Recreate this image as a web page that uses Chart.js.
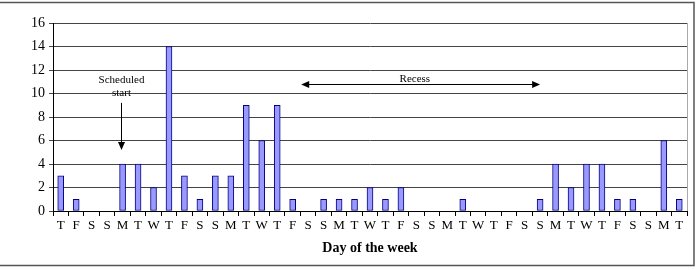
<!DOCTYPE html>
<html>
<head>
<meta charset="utf-8">
<script src="https://cdn.jsdelivr.net/npm/chart.js@4"></script>
<style>
html,body{margin:0;padding:0;background:#fff;}
#wrap{width:696px;height:270px;position:relative;}
</style>
</head>
<body>
<div id="wrap"><canvas id="c" width="696" height="270"></canvas></div>
<script>
const days = ["T","F","S","S","M","T","W","T","F","S","S","M","T","W","T","F","S","S","M","T","W","T","F","S","S","M","T","W","T","F","S","S","M","T","W","T","F","S","S","M","T"];
const counts = [3,1,0,0,4,4,2,14,3,1,3,3,9,6,9,1,0,1,1,1,2,1,2,0,0,0,1,0,0,0,0,1,4,2,4,4,1,1,0,6,1];
const xTitle = "Day of the week";
const schedLabel = ["Scheduled","start"];
const recessLabel = "Recess";
// annotation anchors in data units
const schedX = 3.9, schedTextY = [11.1, 10.0], schedArrowY = [9.2, 5.2];
const recessX = [15.55, 31.0], recessY = 10.8, recessTextX = 22.9, recessTextY = 11.25;

const serif = "'Liberation Serif','Times New Roman',serif";

const deco = {
  id: 'deco',
  afterDraw(chart) {
    const ctx = chart.ctx, x = chart.scales.x, y = chart.scales.y, a = chart.chartArea;
    ctx.save();
    ctx.strokeStyle = '#aaaaaa'; ctx.lineWidth = 1;
    ctx.beginPath(); ctx.moveTo(Math.round(a.right)+0.5, a.top); ctx.lineTo(Math.round(a.right)+0.5, a.bottom); ctx.stroke();
    ctx.strokeStyle = '#555555'; ctx.lineWidth = 1.5;
    ctx.beginPath(); ctx.moveTo(0, 2.5); ctx.lineTo(694, 2.5); ctx.lineTo(694, 265.5); ctx.lineTo(0, 265.5); ctx.stroke();

    ctx.fillStyle = '#000'; ctx.strokeStyle = '#000'; ctx.lineWidth = 1;
    ctx.font = "11px " + serif; ctx.textAlign = 'center'; ctx.textBaseline = 'middle';
    const sx = Math.round(x.getPixelForValue(schedX)) + 0.5;
    ctx.fillText(schedLabel[0], sx, y.getPixelForValue(schedTextY[0]));
    ctx.fillText(schedLabel[1], sx, y.getPixelForValue(schedTextY[1]));
    const y0 = y.getPixelForValue(schedArrowY[0]), y1 = y.getPixelForValue(schedArrowY[1]);
    ctx.beginPath(); ctx.moveTo(sx, y0); ctx.lineTo(sx, y1 - 6); ctx.stroke();
    ctx.beginPath(); ctx.moveTo(sx - 3.5, y1 - 8); ctx.lineTo(sx + 3.5, y1 - 8); ctx.lineTo(sx, y1); ctx.closePath(); ctx.fill();

    const rx0 = x.getPixelForValue(recessX[0]), rx1 = x.getPixelForValue(recessX[1]);
    const ry = Math.round(y.getPixelForValue(recessY)) + 0.5;
    ctx.beginPath(); ctx.moveTo(rx0 + 6, ry); ctx.lineTo(rx1 - 6, ry); ctx.stroke();
    ctx.beginPath(); ctx.moveTo(rx0, ry); ctx.lineTo(rx0 + 8, ry - 3.5); ctx.lineTo(rx0 + 8, ry + 3.5); ctx.closePath(); ctx.fill();
    ctx.beginPath(); ctx.moveTo(rx1, ry); ctx.lineTo(rx1 - 8, ry - 3.5); ctx.lineTo(rx1 - 8, ry + 3.5); ctx.closePath(); ctx.fill();
    ctx.fillText(recessLabel, x.getPixelForValue(recessTextX), y.getPixelForValue(recessTextY));
    ctx.restore();
  }
};

new Chart(document.getElementById('c'), {
  type: 'bar',
  data: {
    labels: days,
    datasets: [{
      data: counts,
      backgroundColor: '#9999ff',
      borderColor: '#000080',
      borderWidth: 1,
      borderSkipped: false,
      barThickness: 6,
      categoryPercentage: 1.0
    }]
  },
  options: {
    responsive: false,
    animation: false,
    layout: { padding: { left: 0, right: 9, top: 23, bottom: 13 } },
    plugins: { legend: { display: false }, tooltip: { enabled: false } },
    scales: {
      x: {
        grid: { display: true, drawOnChartArea: false, offset: true, color: '#000', tickLength: 5, drawTicks: true },
        border: { color: '#000', width: 1 },
        ticks: { color: '#000', font: { family: serif, size: 13 }, maxRotation: 0, autoSkip: false, padding: 2 },
        title: { display: true, text: xTitle, color: '#000', font: { family: serif, size: 14, weight: 'bold' }, padding: { top: 4, bottom: 0 } },
        afterFit(s) { s.height = 46; }
      },
      y: {
        min: 0, max: 16,
        grid: { color: '#444', tickLength: 4, drawTicks: true },
        border: { color: '#000', width: 1 },
        ticks: { stepSize: 2, color: '#000', font: { family: serif, size: 14 }, padding: 4 },
        afterFit(s) { s.width = 53; }
      }
    }
  },
  plugins: [deco]
});
</script>
</body>
</html>
